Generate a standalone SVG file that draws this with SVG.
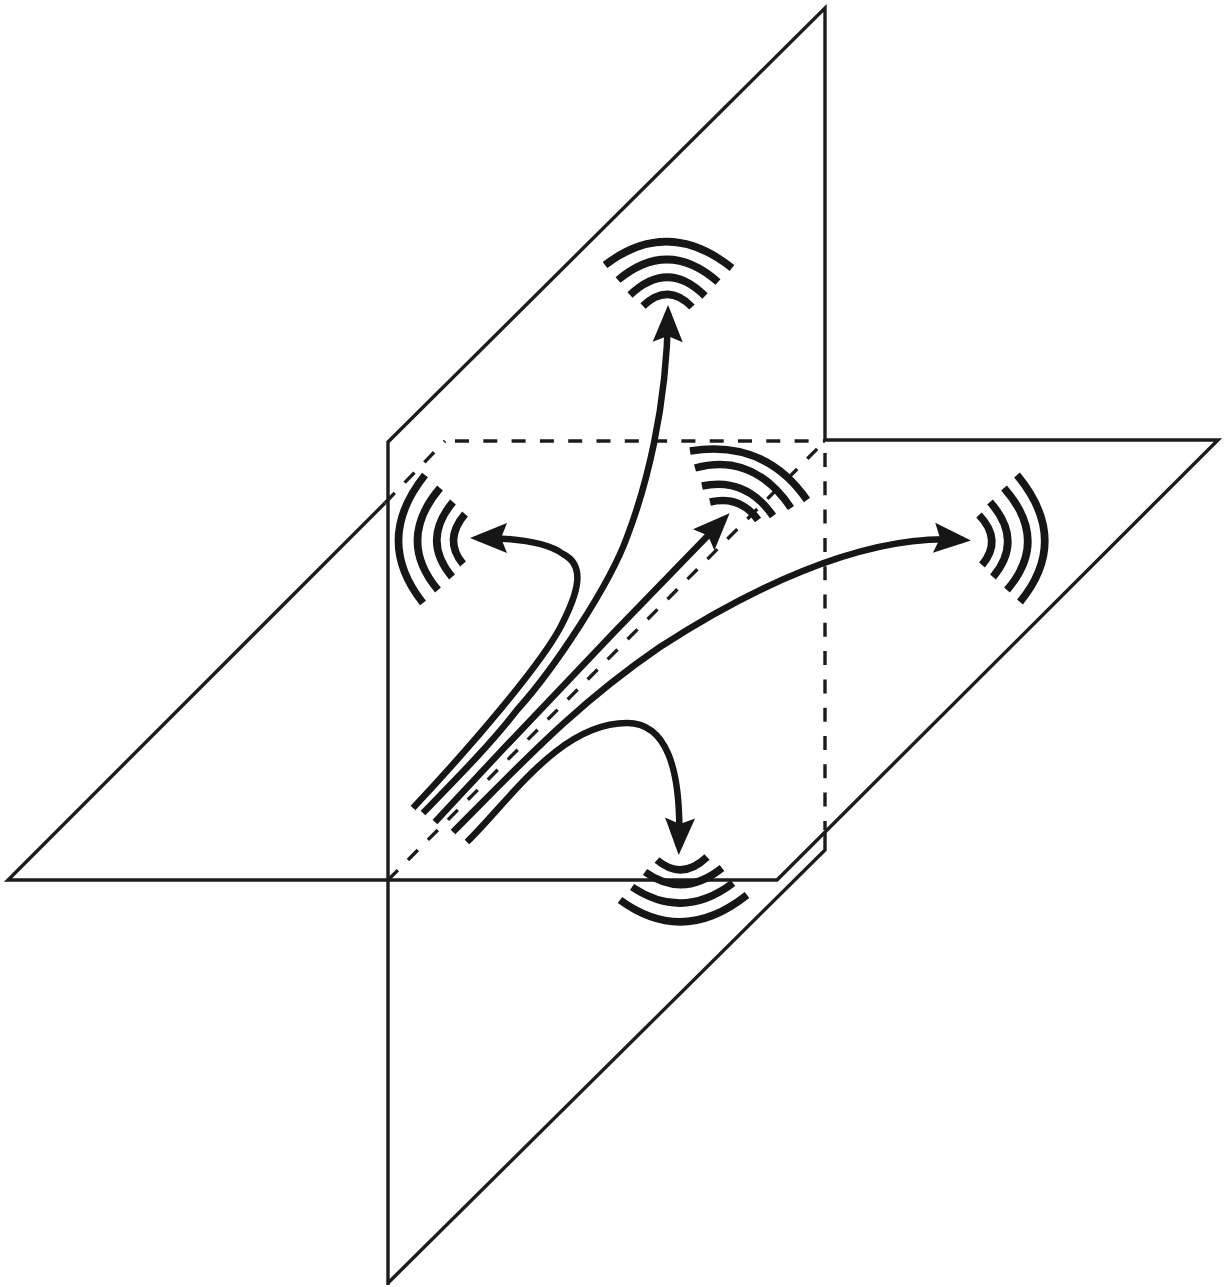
<svg xmlns="http://www.w3.org/2000/svg" width="1228" height="1287" viewBox="0 0 1228 1287">
<style>
.plane{fill:none;stroke:#1c1c1c;stroke-width:3.4}
.dash{fill:none;stroke:#1c1c1c;stroke-width:3.4;stroke-dasharray:14 14.3}
.arc{fill:none;stroke:#161616;stroke-width:7.5;stroke-linecap:butt}
.conn{fill:none;stroke:#161616;stroke-width:6.5;marker-end:url(#head)}
</style>
<defs>
<marker id="head" markerUnits="userSpaceOnUse" viewBox="-34 -17 46 34" markerWidth="46" markerHeight="34" refX="0" refY="0" orient="auto">
<path d="M-29,-15 L8,0 L-29,15 L-23,0 Z" fill="#161616"/>
</marker>
</defs>
<rect width="1228" height="1287" fill="#fff"/>
<g id="plane-vertical">
<path class="plane" d="M388,1285 V442 L825,8 V441"/>
<path class="plane" d="M825,833 V850 L388,1283"/>
</g>
<g id="plane-horizontal">
<path class="plane" d="M385,503 L8,880 H777 L1218,440 H825"/>
<path class="dash" d="M385,503 L445,441"/>
</g>
<g id="hidden-edges">
<path class="dash" d="M455,441 H825"/>
<path class="dash" d="M825,453 V830"/>
<path class="dash" d="M388,880 L825,441"/>
</g>
<g id="node-top">
<path class="arc" d="M605,265 Q668,217 732,268"/>
<path class="arc" d="M618,280 Q668,238 718,282"/>
<path class="arc" d="M630,295 Q668,259 705,296"/>
<path class="arc" d="M643,306 Q668,282 692,307"/>
</g>
<g id="node-left">
<path class="arc" d="M425,475 Q373,540 423,603"/>
<path class="arc" d="M440,488 Q396,540 438,590"/>
<path class="arc" d="M453,502 Q421,540 452,577"/>
<path class="arc" d="M465,514 Q443,540 463,564"/>
</g>
<g id="node-back">
<path class="arc" d="M690,451 Q765,439 807,500"/>
<path class="arc" d="M695,468 Q753,452 791,508"/>
<path class="arc" d="M702,486 Q746,477 773,516"/>
<path class="arc" d="M710,502 Q740,495 758,520"/>
</g>
<g id="node-right">
<path class="arc" d="M1017,475 Q1071,540 1020,602"/>
<path class="arc" d="M1004,488 Q1050,540 1007,590"/>
<path class="arc" d="M990,502 Q1024,540 993,577"/>
<path class="arc" d="M979,515 Q1003,540 982,565"/>
</g>
<g id="node-bottom">
<path class="arc" d="M620,900 Q683,946 747,895"/>
<path class="arc" d="M632,887 Q683,921 733,883"/>
<path class="arc" d="M645,872 Q683,899 722,868"/>
<path class="arc" d="M657,860 Q682,881 707,857"/>
</g>
<g id="connectors">
<path class="conn" d="M413,808 C475,742 540,665 560,628 C580,590 585,565 563,554 C548,543 520,538 478,538"/>
<path class="conn" d="M423,813 C455,780 490,745 517,710 C555,668 610,584 627,537 C645,490 667,410 668,313"/>
<path class="conn" d="M435,822 Q578,668 724,519"/>
<path class="conn" d="M453,832 C520,765 575,705 660,647 C740,595 860,532 963,540"/>
<path class="conn" d="M467,842 C510,800 560,723 627,723 C665,723 682,765 679,847"/>
</g>
</svg>
